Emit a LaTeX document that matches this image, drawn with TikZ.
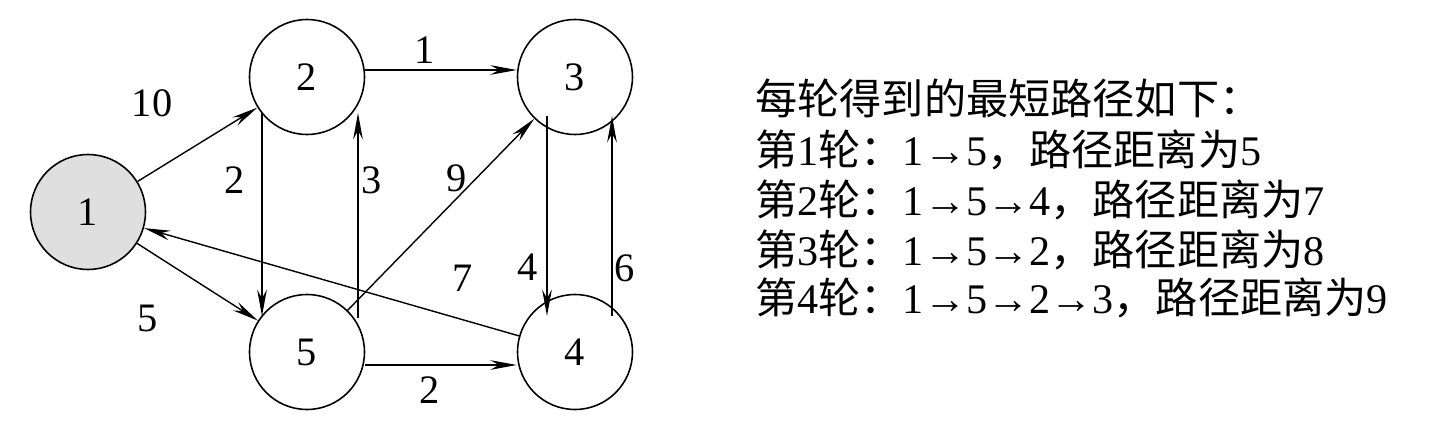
\documentclass[tikz,border=0pt]{standalone}
\usepackage{fontspec}
\setmainfont{Liberation Serif}
\newfontfamily\cjk{Noto Sans CJK SC}
\usetikzlibrary{arrows.meta}
\begin{document}
\begin{tikzpicture}[x=0.02cm,y=-0.02cm,
  v/.style={circle,draw,line width=0.9pt,minimum size=2.3cm,inner sep=0pt,font=\fontsize{23}{26}\selectfont},
  e/.style={draw,line width=0.8pt,-{Stealth[length=15pt,width=5.5pt]}},
  l/.style={font=\fontsize{23}{26}\selectfont},
  t/.style={anchor=west,font=\fontsize{24}{27}\selectfont,inner sep=0pt}]
\useasboundingbox (0,0) rectangle (1434,429);
\node[v,fill=gray!25] (n1) at (88,212) {1};
\node[v] (n2) at (307,77) {2};
\node[v] (n3) at (575,77) {3};
\node[v] (n5) at (307,352) {5};
\node[v] (n4) at (575,352) {4};
\draw[e] (n1) -- (n2);
\draw[e] (n1) -- (n5);
\draw[e] (n2.east |- 0,70) -- (n3.west |- 0,70);
\draw[e] (262,113) -- (262,316);
\draw[e] (358,318) -- (358,113);
\draw[e] (n5) -- (n3);
\draw[e] (547,116) -- (547,316);
\draw[e] (612,316) -- (612,116);
\draw[e] (n4) -- (n1);
\draw[e] (n5.east |- 0,365) -- (n4.west |- 0,365);
\node[l] at (152,103) {10};
\node[l] at (148,318) {5};
\node[l] at (425,50) {1};
\node[l] at (235,180) {2};
\node[l] at (372,180) {3};
\node[l] at (457,178) {9};
\node[l] at (528,267) {4};
\node[l] at (625,268) {6};
\node[l] at (463,278) {7};
\node[l] at (430,390) {2};
\node[t] (h) at (755,98) {{\cjk 每轮得到的最短路径如下：}};
\node[t] (r1) at (755,150) {{\cjk 第}1{\cjk 轮：}1→5{\cjk ，路径距离为}5};
\node[t] (r2) at (755,200) {{\cjk 第}2{\cjk 轮：}1→5→4{\cjk ，路径距离为}7};
\node[t] (r3) at (755,250) {{\cjk 第}3{\cjk 轮：}1→5→2{\cjk ，路径距离为}8};
\node[t] (r4) at (755,298) {{\cjk 第}4{\cjk 轮：}1→5→2→3{\cjk ，路径距离为}9};
\end{tikzpicture}
\end{document}
